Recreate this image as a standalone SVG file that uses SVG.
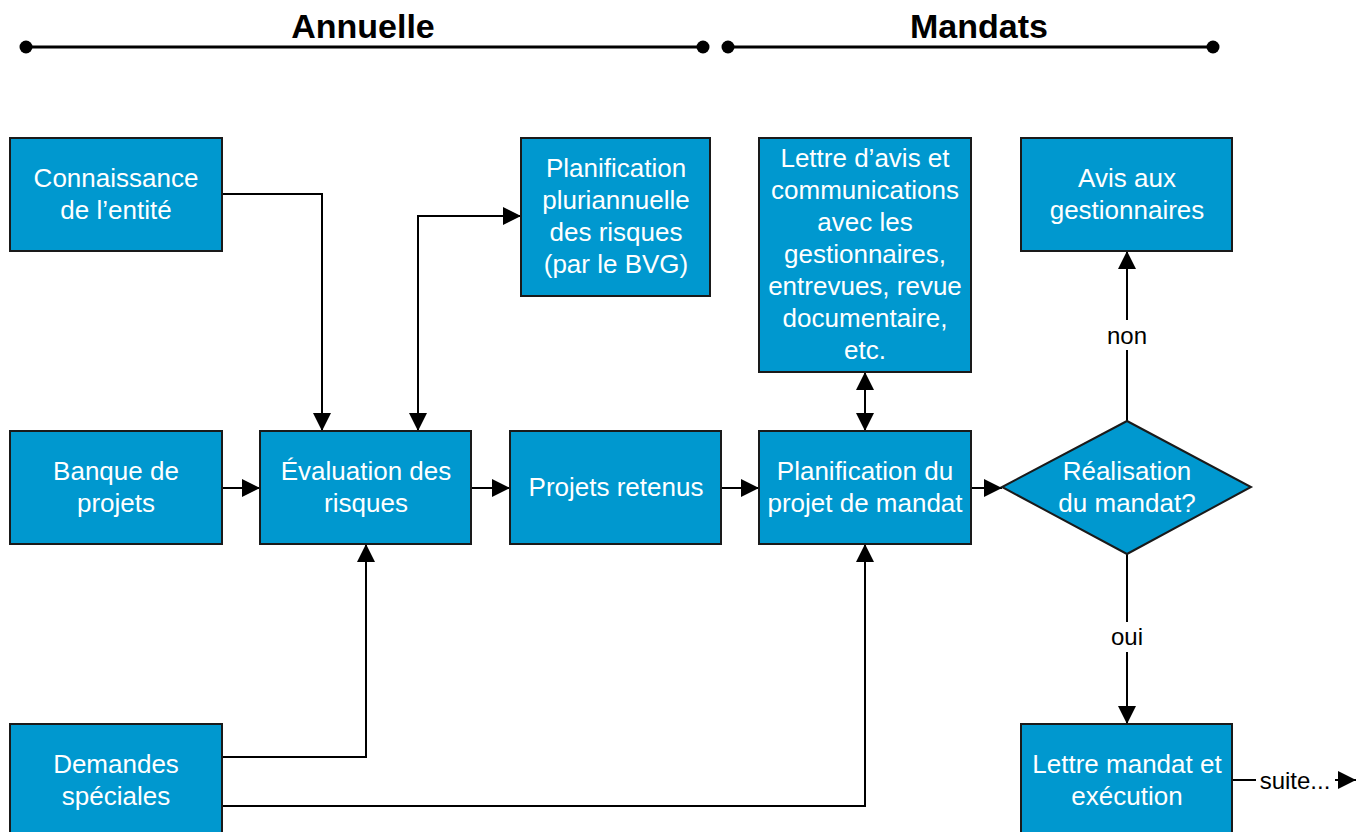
<svg xmlns="http://www.w3.org/2000/svg" width="1357" height="832" viewBox="0 0 1357 832">
<style>
.box{fill:#0098CF;stroke:#1a1a1a;stroke-width:2}
.t{font-family:"Liberation Sans",Arial,sans-serif;font-size:26px;fill:#fff;text-anchor:middle}
.l{font-family:"Liberation Sans",Arial,sans-serif;font-size:24px;fill:#000;text-anchor:middle}
.h{font-family:"Liberation Sans",Arial,sans-serif;font-size:34px;font-weight:bold;fill:#000;text-anchor:middle}
.c{fill:none;stroke:#000;stroke-width:2}
</style>
<defs>
<marker id="a2" viewBox="0 0 10 10" refX="10" refY="5" markerWidth="18" markerHeight="18" markerUnits="userSpaceOnUse" orient="auto-start-reverse"><path d="M0,0L10,5L0,10Z" fill="#000"/></marker>
</defs>
<rect width="1357" height="832" fill="#fff"/>
<g id="timeline">
<line x1="26" y1="47" x2="703" y2="47" stroke="#000" stroke-width="3"/>
<circle cx="26" cy="47" r="6.5"/><circle cx="703" cy="47" r="6.5"/>
<line x1="728" y1="47" x2="1213" y2="47" stroke="#000" stroke-width="3"/>
<circle cx="728" cy="47" r="6.5"/><circle cx="1213" cy="47" r="6.5"/>
<text class="h" x="363" y="38">Annuelle</text>
<text class="h" x="979" y="38">Mandats</text>
</g>
<g id="connectors">
<path class="c" d="M222,194H322V431" marker-end="url(#a2)"/>
<path class="c" d="M418,431V216H521" marker-start="url(#a2)" marker-end="url(#a2)"/>
<path class="c" d="M222,488H260" marker-end="url(#a2)"/>
<path class="c" d="M471,488H510" marker-end="url(#a2)"/>
<path class="c" d="M721,488H759" marker-end="url(#a2)"/>
<path class="c" d="M971,488H1002" marker-end="url(#a2)"/>
<path class="c" d="M865,372V431" marker-start="url(#a2)" marker-end="url(#a2)"/>
<path class="c" d="M1127,421V251" marker-end="url(#a2)"/>
<path class="c" d="M1127,554V724" marker-end="url(#a2)"/>
<path class="c" d="M222,757H366V544" marker-end="url(#a2)"/>
<path class="c" d="M222,806H865V544" marker-end="url(#a2)"/>
<path class="c" d="M1232,780H1256"/>
<path class="c" d="M1335,780H1356" marker-end="url(#a2)"/>
<rect x="1108" y="320" width="38" height="30" fill="#fff"/>
<text class="l" x="1127" y="344">non</text>
<rect x="1110" y="622" width="34" height="30" fill="#fff"/>
<text class="l" x="1127" y="645">oui</text>
<text class="l" x="1295" y="789">suite...</text>
</g>
<g id="connaissance"><rect class="box" x="10" y="138" width="212" height="113"/><text class="t" x="116" y="187">Connaissance</text><text class="t" x="116" y="219">de l’entité</text></g>
<g id="banque"><rect class="box" x="10" y="431" width="212" height="113"/><text class="t" x="116" y="480">Banque de</text><text class="t" x="116" y="512">projets</text></g>
<g id="demandes"><rect class="box" x="10" y="724" width="212" height="113"/><text class="t" x="116" y="773">Demandes</text><text class="t" x="116" y="805">spéciales</text></g>
<g id="evaluation"><rect class="box" x="260" y="431" width="211" height="113"/><text class="t" x="366" y="480">Évaluation des</text><text class="t" x="366" y="512">risques</text></g>
<g id="pluriannuelle"><rect class="box" x="521" y="138" width="189" height="158"/><text class="t" x="616" y="177">Planification</text><text class="t" x="616" y="209">pluriannuelle</text><text class="t" x="616" y="241">des risques</text><text class="t" x="616" y="273">(par le BVG)</text></g>
<g id="projets"><rect class="box" x="510" y="431" width="211" height="113"/><text class="t" x="616" y="496">Projets retenus</text></g>
<g id="lettre-avis"><rect class="box" x="759" y="138" width="212" height="234"/><text class="t" x="865" y="167">Lettre d’avis et</text><text class="t" x="865" y="199">communications</text><text class="t" x="865" y="231">avec les</text><text class="t" x="865" y="263">gestionnaires,</text><text class="t" x="865" y="295">entrevues, revue</text><text class="t" x="865" y="327">documentaire,</text><text class="t" x="865" y="359">etc.</text></g>
<g id="planification"><rect class="box" x="759" y="431" width="212" height="113"/><text class="t" x="865" y="480">Planification du</text><text class="t" x="865" y="512">projet de mandat</text></g>
<g id="avis"><rect class="box" x="1021" y="138" width="211" height="113"/><text class="t" x="1127" y="187">Avis aux</text><text class="t" x="1127" y="219">gestionnaires</text></g>
<g id="decision"><polygon class="box" points="1127,421 1251,487 1127,554 1002,487"/><text class="t" x="1127" y="480">Réalisation</text><text class="t" x="1127" y="512">du mandat?</text></g>
<g id="lettre-mandat"><rect class="box" x="1021" y="724" width="211" height="113"/><text class="t" x="1127" y="773">Lettre mandat et</text><text class="t" x="1127" y="805">exécution</text></g>
</svg>
